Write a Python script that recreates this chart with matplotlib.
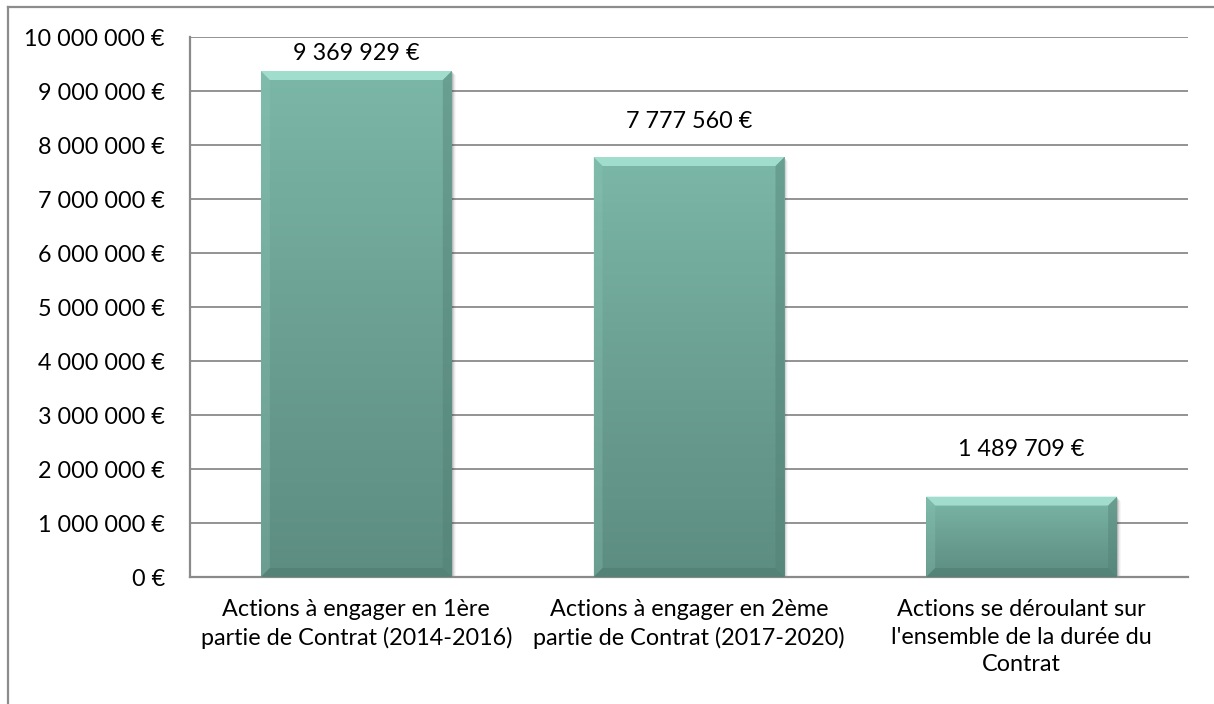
import numpy as np
import matplotlib
matplotlib.use("Agg")
import matplotlib.pyplot as plt
from matplotlib.patches import Polygon, Rectangle
from matplotlib.lines import Line2D
from matplotlib.colors import LinearSegmentedColormap

categories = [
    "Actions à engager en 1ère\npartie de Contrat (2014-2016)",
    "Actions à engager en 2ème\npartie de Contrat (2017-2020)",
    "Actions se déroulant sur\nl'ensemble de la durée du\nContrat",
]
values = [9369929, 7777560, 1489709]
value_labels = ["9 369 929 €", "7 777 560 €", "1 489 709 €"]
y_ticks = list(range(0, 10_000_001, 1_000_000))
y_tick_labels = ["0 €", "1 000 000 €", "2 000 000 €", "3 000 000 €", "4 000 000 €",
                 "5 000 000 €", "6 000 000 €", "7 000 000 €", "8 000 000 €",
                 "9 000 000 €", "10 000 000 €"]
# vertical gap (pixels) between each bar top and its value label
label_gaps = [7, 25, 37]

W, H, DPI = 1214, 704, 100
plt.rcParams["font.family"] = ["Lato", "DejaVu Sans"]
FS = 16.8

fig = plt.figure(figsize=(W / DPI, H / DPI), dpi=DPI)
fig.patch.set_facecolor("white")
ax = fig.add_axes([190 / W, 1 - 577 / H, (1188 - 190) / W, (577 - 37) / H])

ax.set_xlim(-0.5, len(categories) - 0.5)
ax.set_ylim(0, 10_000_000)
ax.set_yticks(y_ticks)
ax.set_yticklabels(y_tick_labels, fontsize=FS, color="black")
ax.set_xticks(range(len(categories)))
ax.set_xticklabels(categories, fontsize=FS, color="black", linespacing=1.38)
ax.tick_params(axis="y", length=0, pad=18)
ax.tick_params(axis="x", length=0, pad=16)

grid_color = "#8a8a8a"
ax.yaxis.grid(True, color=grid_color, linewidth=1.3)
ax.set_axisbelow(True)
for side in ("top", "right"):
    ax.spines[side].set_visible(False)
for side in ("left", "bottom"):
    ax.spines[side].set_color(grid_color)
    ax.spines[side].set_linewidth(1.6)

bar_width = 0.574
cmap = LinearSegmentedColormap.from_list("teal", ["#5d8d81", "#6ba092", "#7bb7a7"])

fig.canvas.draw()
to_px = ax.transData

bars = ax.bar(range(len(values)), values, width=bar_width, color="none",
              edgecolor="none", zorder=3)

bevel = 9  # pixels
for i, (b, v) in enumerate(zip(bars, values)):
    x0, x1 = b.get_x(), b.get_x() + b.get_width()
    (px0, py0), (px1, py1) = to_px.transform([(x0, 0), (x1, v)])

    # soft shadow on the right and bottom
    for k, a in zip(range(1, 5), [0.18, 0.12, 0.07, 0.04]):
        sh = Rectangle((px0 + k, py0 - k), px1 - px0, py1 - py0,
                       transform=None, facecolor="#404040", alpha=a,
                       edgecolor="none", zorder=2)
        ax.add_patch(sh)

    # vertical gradient fill
    grad = np.linspace(0, 1, 256).reshape(-1, 1)
    im = ax.imshow(grad, cmap=cmap, aspect="auto", origin="lower",
                   extent=(x0, x1, 0, v), zorder=3, interpolation="bicubic")
    clip = Rectangle((x0, 0), x1 - x0, v, transform=ax.transData,
                     facecolor="none", edgecolor="none")
    ax.add_patch(clip)
    im.set_clip_path(clip)

    # bevelled edges (pixel space)
    ix0, ix1, iy0, iy1 = px0 + bevel, px1 - bevel, py0 + bevel, py1 - bevel
    faces = [
        ([(px0, py1), (px1, py1), (ix1, iy1), (ix0, iy1)], "#a9e4d4", 0.85),  # top
        ([(px0, py0), (px0, py1), (ix0, iy1), (ix0, iy0)], "#8cc7b7", 0.3),   # left
        ([(px1, py0), (px1, py1), (ix1, iy1), (ix1, iy0)], "#4f7d72", 0.4),   # right
        ([(px0, py0), (px1, py0), (ix1, iy0), (ix0, iy0)], "#4a766b", 0.45),  # bottom
    ]
    for pts, col, a in faces:
        ax.add_patch(Polygon(pts, closed=True, transform=None, facecolor=col,
                             edgecolor="none", alpha=a, zorder=4))

    ax.annotate(value_labels[i], xy=(b.get_x() + b.get_width() / 2, v),
                xytext=(0, label_gaps[i] * 72 / DPI), textcoords="offset points",
                ha="center", va="bottom", fontsize=FS, color="black", zorder=5)

# chart area frame
fig.add_artist(Line2D([8 / W, 8 / W], [0, 1 - 7 / H], transform=fig.transFigure,
                      color="#8c8c8c", linewidth=1.6))
fig.add_artist(Line2D([8 / W, 1], [1 - 7 / H, 1 - 7 / H], transform=fig.transFigure,
                      color="#8c8c8c", linewidth=1.6))

fig.savefig("out.png", dpi=DPI)
